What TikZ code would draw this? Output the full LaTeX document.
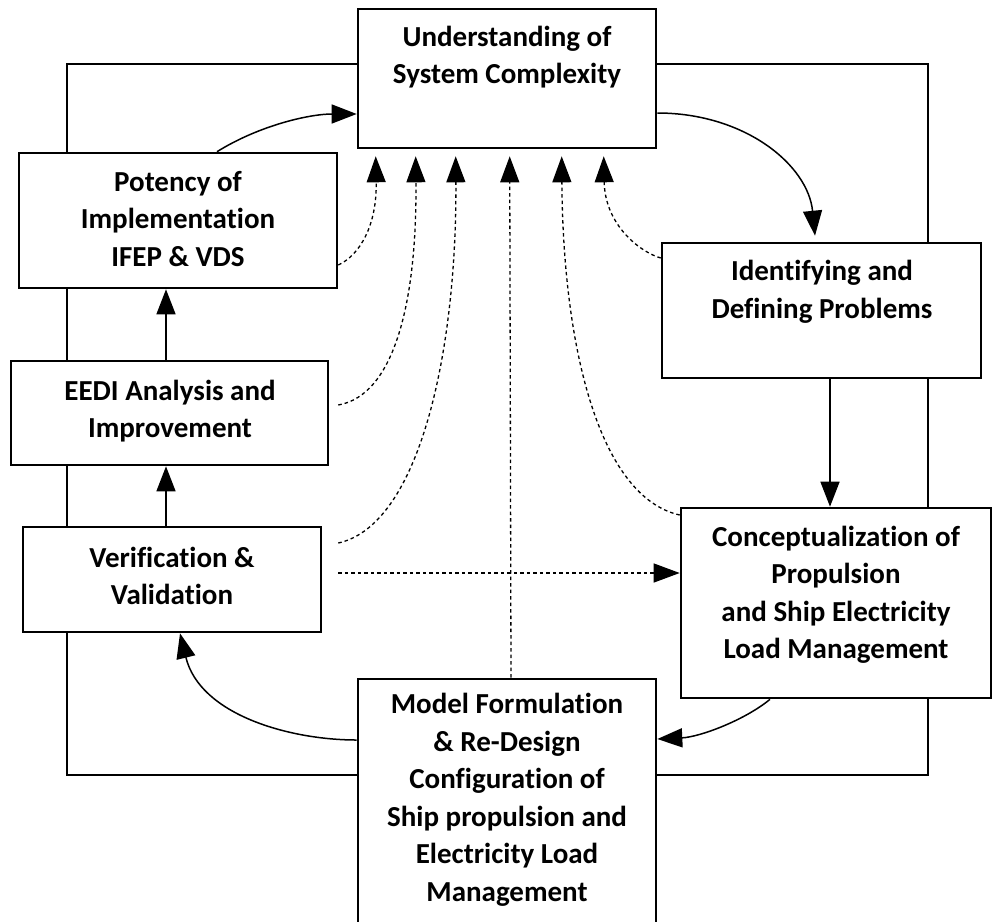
\documentclass[tikz,border=0pt]{standalone}
\usepackage{fontspec}
\setmainfont{Carlito}[Ligatures={NoCommon}]
\usetikzlibrary{arrows.meta,calc}
\begin{document}
\begin{tikzpicture}[x=1pt,y=-1pt,
  box/.style={draw,line width=2.6pt,fill=white,inner sep=0pt},
  txt/.style={align=center,inner sep=0pt,font=\fontsize{29}{37.5}\selectfont\bfseries},
  solidarrow/.style={line width=1.5pt,-{Triangle[length=25pt,width=19pt]}},
  dotarrow/.style={line width=1.3pt,dash pattern=on 3.5pt off 3pt,-{Triangle[length=26pt,width=19pt]}}]
\useasboundingbox (0,0) rectangle (992,921);
\clip (0,0) rectangle (992,921);
% frame
\node[draw,line width=2.6pt,inner sep=0pt,minimum width=861pt,minimum height=711pt] (frame) at (497.5,419.5) {};
% boxes
\node[box,minimum width=298pt,minimum height=139pt] (und) at (507,78.5) {};
\node[box,minimum width=318pt,minimum height=135pt] (pot) at (178,220.5) {};
\node[box,minimum width=317pt,minimum height=104pt] (eedi) at (169.5,413) {};
\node[box,minimum width=298pt,minimum height=105pt] (ver) at (172,579.5) {};
\node[box,minimum width=319pt,minimum height=135pt] (idn) at (821.5,310.5) {};
\node[box,minimum width=310pt,minimum height=190pt] (con) at (836,603) {};
\node[box,minimum width=298pt,minimum height=256pt] (mod) at (507,807) {};
% texts
\node[txt] (undt) at (507,57) {Understanding of\\System Complexity};
\node[txt] (pott) at (178,219) {Potency of\\Implementation\\IFEP \& VDS};
\node[txt] (eedit) at (170,411) {EEDI Analysis and\\Improvement};
\node[txt] (vert) at (172,576) {Verification \&\\Validation};
\node[txt] (idnt) at (822,292) {Identifying and\\Defining Problems};
\node[txt] (cont) at (836,595) {Conceptualization of\\Propulsion\\and Ship Electricity\\Load Management};
\node[txt] (modt) at (507,800) {Model Formulation\\\& Re-Design\\Configuration of\\Ship propulsion and\\Electricity Load\\Management};
% solid connectors
\draw[solidarrow] ([xshift=39pt]pot.north) .. controls (260,125) and (310,114) .. ([yshift=-35.5pt]und.west);
\draw[solidarrow] ([yshift=-34.5pt]und.east) .. controls (745,113) and (808,165) .. ([xshift=-6.5pt,yshift=6pt]idn.north);
\draw[solidarrow] ([xshift=8.5pt]idn.south) -- ([xshift=-6pt]con.north);
\draw[solidarrow] ([xshift=-66pt]con.south) .. controls (745,720) and (700,737) .. ([yshift=68pt]mod.east);
\draw[solidarrow] ([yshift=67pt]mod.west) .. controls (290,740) and (200,715) .. ([xshift=8pt]ver.south);
\draw[solidarrow] ([xshift=-6pt]ver.north) -- ([xshift=-3.5pt]eedi.south);
\draw[solidarrow] ([xshift=-3.5pt]eedi.north) -- ([xshift=-12pt]pot.south);
% dotted connectors
\draw[dotarrow] ([yshift=-44.5pt]pot.east) .. controls (360,255) and (377,225) .. ([xshift=19pt,yshift=-7pt]und.south west);
\draw[dotarrow] ([xshift=9pt,yshift=8pt]eedi.east) .. controls (395,395) and (417,300) .. ([xshift=59pt,yshift=-7pt]und.south west);
\draw[dotarrow] ([xshift=16pt,yshift=36.5pt]ver.east) .. controls (420,525) and (457,350) .. ([xshift=99pt,yshift=-7pt]und.south west);
\draw[dotarrow] ([xshift=4pt]mod.north) -- ([xshift=153pt,yshift=-7pt]und.south west);
\draw[dotarrow] ([yshift=88pt]con.west) .. controls (600,497) and (563,350) .. ([xshift=205pt,yshift=-7pt]und.south west);
\draw[dotarrow] ([yshift=52.5pt]idn.west) .. controls (640,252) and (605,225) .. ([xshift=247pt,yshift=-7pt]und.south west);
\draw[dotarrow] ([xshift=16pt,yshift=6.5pt]ver.east) -- ([yshift=30pt]con.west);
\end{tikzpicture}
\end{document}
